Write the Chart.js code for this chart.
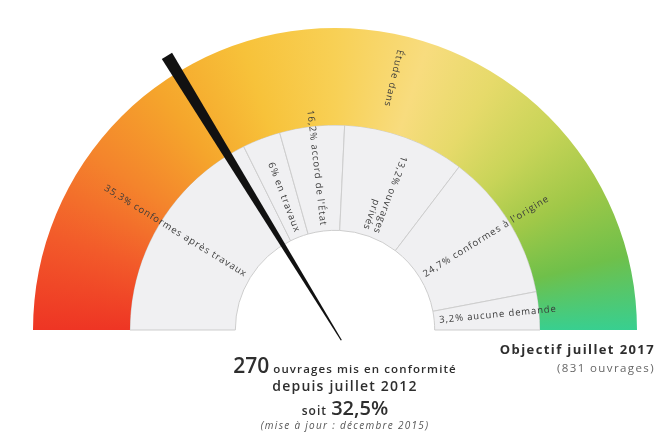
<!DOCTYPE html>
<html lang="fr">
<head>
<meta charset="utf-8">
<script src="https://cdn.jsdelivr.net/npm/chart.js@4.4.1/dist/chart.umd.min.js"></script>
<style>
 html,body{margin:0;padding:0;background:#fff;}
 #wrap{position:relative;width:660px;height:439px;font-family:"Open Sans",sans-serif;color:#2e2e2e;}
 #gauge{position:absolute;left:0;top:0;}
 .txt{position:absolute;white-space:nowrap;text-align:center;font-weight:600;}
</style>
</head>
<body>
<div id="wrap">
 <canvas id="gauge" width="660" height="439"></canvas>
 <div class="txt" style="left:145px;width:400px;top:351px;"><span style="font-size:21px;">270</span> <span style="font-size:11.5px;letter-spacing:1.1px;">ouvrages mis en conformité</span></div>
 <div class="txt" style="left:145px;width:400px;top:376px;font-size:14px;letter-spacing:1.2px;">depuis juillet 2012</div>
 <div class="txt" style="left:145px;width:400px;top:394px;"><span style="font-size:12px;letter-spacing:1px;">soit</span> <span style="font-size:20px;">32,5%</span></div>
 <div class="txt" style="left:145px;width:400px;top:418px;font-size:10px;font-weight:400;font-style:italic;letter-spacing:1.3px;color:#555;">(mise à jour : décembre 2015)</div>
 <div class="txt" style="right:5px;top:340px;text-align:right;font-size:13px;font-weight:700;letter-spacing:1.4px;">Objectif juillet 2017</div>
 <div class="txt" style="right:5px;top:360px;text-align:right;font-size:11.5px;font-weight:400;letter-spacing:1.4px;color:#666;">(831 ouvrages)</div>
</div>
<script>
/* data */
var segment_shares=[35.3,6,10.2,19.2,23.3,6.0]; // angular share of each inner segment
var segment_labels=['35,3% conformes après travaux','6% en travaux','16,2% accord de l\'État','13,2% ouvrages\nprivés','24,7% conformes à l\'origine','3,2% aucune demande'];
var segment_outer_labels=['','','','Étude dans','',''];
var needle_value=32.5; // % of the target (270 / 831)
var scale_max=100;

/* gradient stops along the outer band, left to right */
var band_stops=[
 [0.00,'#ee3524'],[0.10,'#f25a2a'],[0.20,'#f4842c'],[0.30,'#f5a62c'],
 [0.40,'#f7c23a'],[0.50,'#f8d055'],[0.60,'#f8dc7e'],[0.68,'#e6da6a'],
 [0.76,'#c8d458'],[0.84,'#a0c848'],[0.92,'#6fc04a'],[1.00,'#38cf90']
];

function bandGradient(context){
 var chart=context.chart;
 var area=chart.chartArea;
 if(!area) return '#f8d055';
 var cx=(area.left+area.right)/2, cy=area.bottom;
 var g=chart.ctx.createConicGradient(Math.PI,cx,cy);
 band_stops.forEach(function(s){g.addColorStop(s[0]/2,s[1]);});
 g.addColorStop(1,band_stops[0][1]);
 return g;
}

/* labels and needle drawn on top of the arcs */
var gaugeDecor={
 id:'gaugeDecor',
 afterDatasetsDraw:function(chart){
  var ctx=chart.ctx;
  var arcs=chart.getDatasetMeta(1).data;
  ctx.save();
  ctx.font='9.5px "Open Sans", sans-serif';
  ctx.fillStyle='#3a3a3a';
  ctx.textBaseline='middle';
  ctx.letterSpacing='0.9px';
  arcs.forEach(function(arc,i){
   var p=arc.getProps(['x','y','startAngle','endAngle','innerRadius','outerRadius']);
   var mid=(p.startAngle+p.endAngle)/2;
   if(mid<0) mid+=Math.PI*2;
   var inward=mid<Math.PI*1.62;
   var draw=function(text,r,shift){
    if(!text) return;
    var lines=text.split('\n');
    ctx.save();
    ctx.translate(p.x+Math.cos(mid+shift)*r,p.y+Math.sin(mid+shift)*r);
    ctx.rotate(inward?mid+shift+Math.PI:mid+shift);
    ctx.textAlign=inward?'right':'left';
    lines.forEach(function(l,k){ctx.fillText(l,0,(k-(lines.length-1)/2)*11);});
    ctx.restore();
   };
   draw(segment_labels[i],p.innerRadius+5,0);
   draw(segment_outer_labels[i],p.outerRadius+24,-0.12);
  });
  ctx.restore();
  // needle
  var a0=arcs[0];
  var outer=chart.getDatasetMeta(0).data[0].outerRadius;
  var ang=Math.PI*(1+needle_value/scale_max);
  var cx=a0.x, cy=a0.y;
  var rt=outer*1.065, rb=-outer*0.04;
  var nx=-Math.sin(ang), ny=Math.cos(ang);
  ctx.save();
  ctx.fillStyle='#111';
  ctx.beginPath();
  ctx.moveTo(cx+Math.cos(ang)*rt+nx*6,cy+Math.sin(ang)*rt+ny*6);
  ctx.lineTo(cx+Math.cos(ang)*rt-nx*6,cy+Math.sin(ang)*rt-ny*6);
  ctx.lineTo(cx+Math.cos(ang)*rb-nx*0.6,cy+Math.sin(ang)*rb-ny*0.6);
  ctx.lineTo(cx+Math.cos(ang)*rb+nx*0.6,cy+Math.sin(ang)*rb+ny*0.6);
  ctx.closePath();
  ctx.fill();
  ctx.restore();
 }
};

var ctx=document.getElementById('gauge').getContext('2d');
var gauge=new Chart(ctx,{
 type:'doughnut',
 data:{
  labels:segment_labels,
  datasets:[
   {
    data:[scale_max],
    backgroundColor:bandGradient,
    borderWidth:0,
    weight:0.92
   },
   {
    data:segment_shares,
    backgroundColor:'#f0f0f2',
    borderColor:'#cdcdcd',
    borderWidth:1,
    weight:1
   }
  ]
 },
 options:{
  responsive:false,
  animation:false,
  events:[],
  rotation:-90,
  circumference:180,
  cutout:'33%',
  layout:{padding:{left:33,right:23,top:28,bottom:109}},
  plugins:{legend:{display:false},tooltip:{enabled:false}}
 },
 plugins:[gaugeDecor]
});
</script>
</body>
</html>
